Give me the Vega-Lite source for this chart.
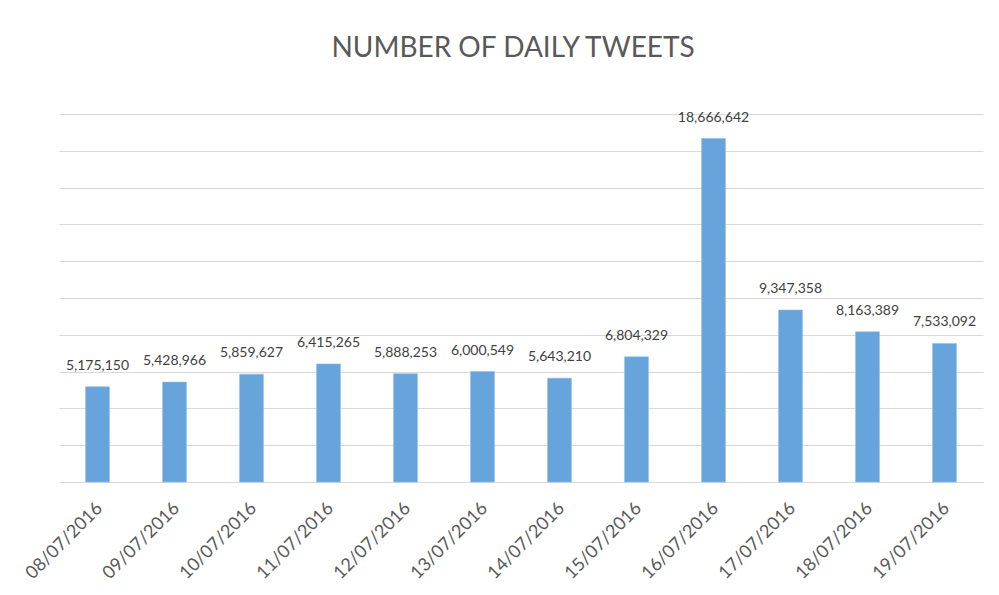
{
  "$schema": "https://vega.github.io/schema/vega-lite/v6.json",
  "width": 924,
  "height": 368,
  "autosize": {"type": "none"},
  "padding": {"left": 59, "top": 114, "right": 16, "bottom": 113},
  "background": "white",
  "title": {
    "text": "NUMBER OF DAILY TWEETS",
    "font": "Lato",
    "fontSize": 28,
    "fontWeight": "normal",
    "color": "#595959",
    "anchor": "middle",
    "baseline": "bottom",
    "offset": 20,
    "dx": -8
  },
  "data": {
    "values": [
      {"date": "08/07/2016", "tweets": 5175150},
      {"date": "09/07/2016", "tweets": 5428966},
      {"date": "10/07/2016", "tweets": 5859627},
      {"date": "11/07/2016", "tweets": 6415265},
      {"date": "12/07/2016", "tweets": 5888253},
      {"date": "13/07/2016", "tweets": 6000549},
      {"date": "14/07/2016", "tweets": 5643210},
      {"date": "15/07/2016", "tweets": 6804329},
      {"date": "16/07/2016", "tweets": 18666642},
      {"date": "17/07/2016", "tweets": 9347358},
      {"date": "18/07/2016", "tweets": 8163389},
      {"date": "19/07/2016", "tweets": 7533092}
    ]
  },
  "encoding": {
    "x": {
      "field": "date",
      "type": "ordinal",
      "sort": null,
      "scale": {"paddingInner": 0.69, "paddingOuter": 0.345},
      "axis": {
        "title": null,
        "labelAngle": -45,
        "labelFont": "Lato",
        "labelFontSize": 18,
        "labelColor": "#595959",
        "labelPadding": 17,
        "labelOffset": -4,
        "ticks": false,
        "domainColor": "#d9d9d9",
        "domainWidth": 1
      }
    },
    "y": {
      "field": "tweets",
      "type": "quantitative",
      "scale": {"domain": [0, 20000000], "nice": false},
      "axis": {
        "title": null,
        "labels": false,
        "ticks": false,
        "domain": false,
        "values": [0, 2000000, 4000000, 6000000, 8000000, 10000000, 12000000, 14000000, 16000000, 18000000, 20000000],
        "gridColor": "#d9d9d9",
        "gridWidth": 1
      }
    }
  },
  "layer": [
    {"mark": {"type": "bar", "color": "#66a4db", "stroke": "#8fbce6", "strokeWidth": 0.6}},
    {
      "mark": {"type": "text", "dy": -14, "font": "Lato", "fontSize": 14, "color": "#404040", "baseline": "bottom"},
      "encoding": {"text": {"field": "tweets", "type": "quantitative", "format": ","}}
    }
  ],
  "config": {"view": {"stroke": null}}
}
